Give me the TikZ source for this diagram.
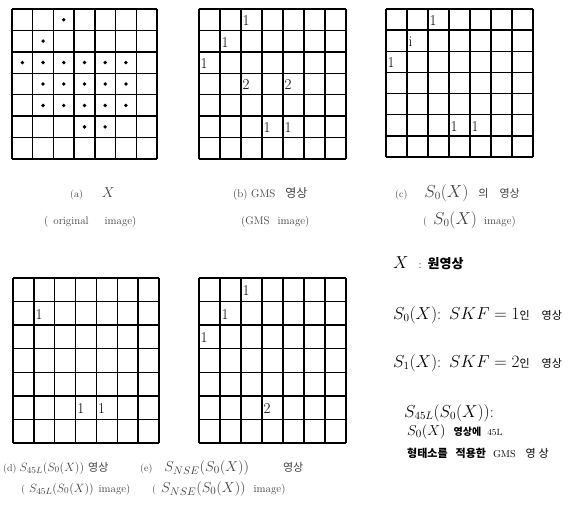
\documentclass[tikz,border=0pt]{standalone}
\usepackage{fontspec}
\newfontfamily\kr{Noto Sans CJK KR}
\usetikzlibrary{calc}
\newcommand{\fs}[1]{\fontsize{#1}{#1}\selectfont}
\tikzset{
  gridline/.style={line width=1.4pt, black},
  cellnum/.style={anchor=west, inner sep=0pt, font=\fs{15}},
  pixdot/.style={circle, fill=black, inner sep=0pt, minimum size=3.8pt},
  captext/.style={anchor=west, inner sep=0pt, black!75, font=\fs{10}},
  legendtext/.style={anchor=west, inner sep=0pt, font=\fs{16}},
}
% grid: x0, y0, cell width, cell height
\newcommand{\mygrid}[4]{%
  \foreach \i in {0,...,7} {
    \draw[gridline] ({#1+\i*#3},#2) -- ({#1+\i*#3},{#2+7*#4});
    \draw[gridline] (#1,{#2+\i*#4}) -- ({#1+7*#3},{#2+\i*#4});
  }%
}
\begin{document}
\begin{tikzpicture}[x=1pt,y=-1pt]
\useasboundingbox (0,0) rectangle (583,514);
% ---------- (a) ----------
\mygrid{12}{9}{20.71}{21.43}
\foreach \r/\c [count=\k] in {1/3, 2/2, 3/1,3/2,3/3,3/4,3/5,3/6, 4/2,4/3,4/4,4/5,4/6, 5/2,5/3,5/4,5/5,5/6, 6/4,6/5}
  \node[pixdot] (a\k) at ({12+(\c-0.5)*20.71},{9+(\r-0.5)*21.43}) {};
\node[captext] (capa1) at (70,194) {(a)\hspace{19pt}{\fs{14}$X$}};
\node[captext, font=\fs{11}] (capa2) at (44,222) {(\hspace{5pt}original\hspace{16pt}image)};
% ---------- (b) ----------
\mygrid{199}{9}{21}{21.43}
\foreach \r/\c/\v [count=\k] in {1/3/1, 2/2/1, 3/1/1, 4/3/2, 4/5/2, 6/4/1, 6/5/1}
  \node[cellnum] (b\k) at ({199+(\c-1)*21+1.5},{9+(\r-0.5)*21.43+1}) {\v};
\node[captext, font=\fs{11}] (capb1) at (233,194) {(b) GMS\hspace{10pt}{\kr\fs{12}영상}};
\node[captext, font=\fs{11}] (capb2) at (241,222) {(GMS\hspace{8pt}image)};
% ---------- (c) ----------
\mygrid{386}{9}{21}{21.14}
\foreach \r/\c/\v [count=\k] in {1/3/1, 2/2/i, 3/1/1, 6/4/1, 6/5/1}
  \node[cellnum] (c\k) at ({386+(\c-1)*21+1.5},{9+(\r-0.5)*21.14+1}) {\v};
\node[captext] (capc1) at (395,193) {(c)\hspace{17pt}{\fs{16}$S_0(X)$}\hspace{10pt}{\kr\fs{11}의}\hspace{11pt}{\kr\fs{11}영상}};
\node[captext] (capc2) at (423,220) {(\hspace{6pt}{\fs{16}$S_0(X)$}\hspace{7pt}{\fs{11}image)}};
% ---------- (d) ----------
\mygrid{13}{278}{20.86}{23.57}
\foreach \r/\c/\v [count=\k] in {2/2/1, 6/4/1, 6/5/1}
  \node[cellnum] (d\k) at ({13+(\c-1)*20.86+1.5},{278+(\r-0.5)*23.57+1}) {\v};
\node[captext] (capd1) at (3,468) {(d)\hspace{3pt}{\fs{13}$S_{45L}(S_0(X))$}\hspace{4pt}{\kr\fs{11}영상}};
\node[captext] (capd2) at (21,489) {(\hspace{4pt}{\fs{13}$S_{45L}(S_0(X))$}\hspace{5pt}{\fs{11}image)}};
% ---------- (e) ----------
\mygrid{199}{278}{21}{23.57}
\foreach \r/\c/\v [count=\k] in {1/3/1, 2/2/1, 3/1/1, 6/4/2}
  \node[cellnum] (e\k) at ({199+(\c-1)*21+1.5},{278+(\r-0.5)*23.57+1}) {\v};
\node[captext] (cape1) at (140,468) {(e)\hspace{12pt}{\fs{15}$S_{NSE}(S_0(X))$}\hspace{34pt}{\kr\fs{11}영상}};
\node[captext] (cape2) at (152,489) {(\hspace{5pt}{\fs{15}$S_{NSE}(S_0(X))$}\hspace{8pt}{\fs{11}image)}};
% ---------- legend ----------
\node[legendtext] (l1) at (393,263) {$X$\hspace{10pt}{\fs{11}:}\hspace{6pt}{\kr\bfseries\fs{13}원영상}};
\node[legendtext] (l2) at (393,315) {$S_0(X)$:\hspace{8pt}$SKF=1${\kr\fs{11}인}\hspace{12pt}{\kr\fs{11}영상}};
\node[legendtext] (l3) at (393,363) {$S_1(X)$:\hspace{8pt}$SKF=2${\kr\fs{11}인}\hspace{12pt}{\kr\fs{11}영상}};
\node[legendtext] (l4) at (404,413) {$S_{45L}(S_0(X))$:};
\node[legendtext] (l5) at (407,432) {{\fs{15}$S_0(X)$}\hspace{8pt}{\kr\bfseries\fs{10}영상에}\hspace{6pt}{\fs{9}45L}};
\node[legendtext] (l6) at (407,453) {{\kr\bfseries\fs{11}형태소를\hspace{8pt}적용한}\hspace{7pt}{\fs{10}GMS}\hspace{10pt}{\kr\fs{11}영\hspace{3pt}상}};
\end{tikzpicture}
\end{document}
